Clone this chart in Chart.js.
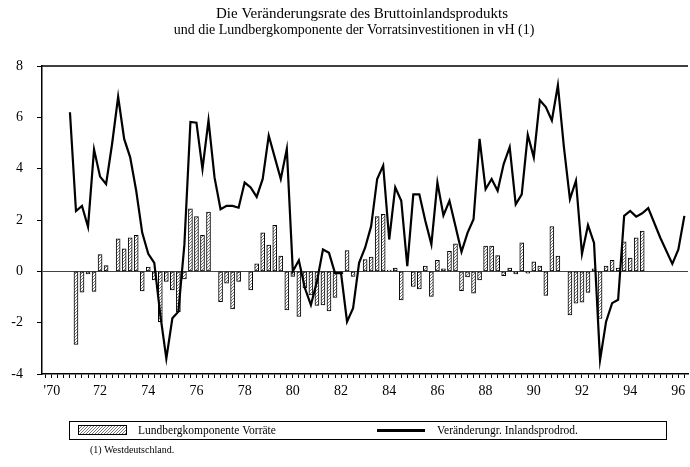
<!DOCTYPE html>
<html>
<head>
<meta charset="utf-8">
<script src="https://cdn.jsdelivr.net/npm/chart.js@4.4.0/dist/chart.umd.min.js"></script>
<style>
  html, body { margin: 0; padding: 0; background: #fff; }
  #wrap { width: 690px; height: 467px; position: relative; }
</style>
</head>
<body>
<div id="wrap"><canvas id="chart" width="690" height="467"></canvas></div>
<script>
// --- data (quarterly, first value = 4th quarter 1970) ---
const firstQuarter = 70.75;
const quarterStep = 0.25;

const titleLines = [
  "Die Veränderungsrate des Bruttoinlandsprodukts",
  "und die Lundbergkomponente der Vorratsinvestitionen in vH (1)"
];
const barLabel = "Lundbergkomponente Vorräte";
const lineLabel = "Veränderungr. Inlandsprodrod.";
const footnote = "(1) Westdeutschland.";

const yTicks = [-4, -2, 0, 2, 4, 6, 8];
const xLabelYears = [70, 72, 74, 76, 78, 80, 82, 84, 86, 88, 90, 92, 94, 96];

// Veränderungsrate BIP
const lineValues = [
  6.2, 2.35, 2.55, 1.73, 4.75, 3.69, 3.4, 4.97, 6.8, 5.16,
  4.44, 3.14, 1.5, 0.68, 0.33, -1.7, -3.4, -1.83, -1.57, 1.05,
  5.82, 5.79, 3.99, 5.88, 3.66, 2.42, 2.55, 2.55, 2.48, 3.46,
  3.27, 2.9, 3.6, 5.29, 4.44, 3.6, 4.77, 0.0, 0.43, -0.65,
  -1.31, -0.4, 0.85, 0.72, -0.07, -0.07, -1.96, -1.44, 0.33, 0.92,
  1.76, 3.6, 4.12, 1.24, 3.27, 2.75, 0.2, 3.0, 3.0, 1.96,
  1.05, 3.46, 2.18, 2.75, 1.76, 0.76, 1.5, 2.03, 5.16, 3.2,
  3.6, 3.14, 4.18, 4.84, 2.61, 3.0, 5.32, 4.44, 6.67, 6.4,
  5.88, 7.25, 4.84, 2.81, 3.53, 0.68, 1.8, 1.11, -3.46, -1.96,
  -1.24, -1.11, 2.16, 2.35, 2.13, 2.26, 2.46, null, 1.31, null,
  0.29, 0.85, 2.16
];

// Lundbergkomponente Vorräte
const barValues = [
  null, -2.85, -0.81, -0.1, -0.78, 0.65, 0.22, null, 1.27, 0.88,
  1.31, 1.4, -0.76, 0.17, -0.33, -1.96, -0.39, -0.72, -1.57, -0.3,
  2.44, 2.13, 1.4, 2.31, null, -1.18, -0.46, -1.46, -0.39, null,
  -0.72, 0.29, 1.5, 1.02, 1.79, 0.59, -1.5, -0.2, -1.76, -0.65,
  -0.92, -1.33, -1.31, -1.54, -1.02, -0.1, 0.81, -0.2, null, 0.46,
  0.56, 2.13, 2.22, 0.05, 0.13, -1.11, null, -0.59, -0.69, 0.2,
  -0.98, 0.43, 0.1, 0.78, 1.07, -0.75, -0.22, -0.85, -0.33, 0.98,
  0.98, 0.61, -0.17, 0.13, -0.1, 1.11, -0.07, 0.37, 0.2, -0.94,
  1.74, 0.59, null, -1.7, -1.24, -1.2, -0.82, 0.1, -1.83, 0.2,
  0.43, 0.13, 1.15, 0.52, 1.31, 1.57
];

const serif = '"Liberation Serif", "Times New Roman", serif';

const canvas = document.getElementById('chart');
const mainCtx = canvas.getContext('2d');

// stippled fill like the printed bars
function makeStipple() {
  const c = document.createElement('canvas');
  c.width = 3; c.height = 3;
  const g = c.getContext('2d');
  g.fillStyle = '#fff';
  g.fillRect(0, 0, 3, 3);
  g.fillStyle = '#777';
  g.fillRect(0, 0, 1, 1);
  g.fillRect(2, 1, 1, 1);
  g.fillRect(1, 2, 1, 1);
  return mainCtx.createPattern(c, 'repeat');
}
const stipple = makeStipple();

const toPoints = vals => vals.map((v, i) => ({ x: firstQuarter + i * quarterStep, y: v }));

// title, frame top, legend box and footnote
const decor = {
  id: 'decor',
  afterDraw(chart) {
    const ctx = chart.ctx;
    const a = chart.chartArea;
    ctx.save();
    ctx.strokeStyle = '#000';
    ctx.lineWidth = 1.5;
    ctx.beginPath();
    ctx.moveTo(a.left, a.top);
    ctx.lineTo(a.right, a.top);
    ctx.stroke();

    ctx.fillStyle = '#000';
    ctx.textAlign = 'center';
    ctx.textBaseline = 'middle';
    ctx.font = '15px ' + serif;
    ctx.fillText(titleLines[0], 362, 14);
    ctx.font = '14px ' + serif;
    ctx.fillText(titleLines[1], 354, 30);

    // legend
    ctx.lineWidth = 1;
    ctx.strokeRect(69.5, 421.5, 597, 18);
    ctx.fillStyle = stipple;
    ctx.fillRect(78, 425, 49, 10);
    ctx.strokeRect(78.5, 425.5, 48, 9);
    ctx.fillStyle = '#000';
    ctx.textAlign = 'left';
    ctx.font = '11.5px ' + serif;
    ctx.fillText(barLabel, 138, 431);
    ctx.lineWidth = 3;
    ctx.beginPath();
    ctx.moveTo(377, 430.5);
    ctx.lineTo(425, 430.5);
    ctx.stroke();
    ctx.fillText(lineLabel, 437, 431);

    ctx.font = '10px ' + serif;
    ctx.fillText(footnote, 90, 450);
    ctx.restore();
  }
};

new Chart(canvas, {
  type: 'bar',
  data: {
    datasets: [
      {
        type: 'line',
        label: lineLabel,
        data: toPoints(lineValues),
        borderColor: '#000',
        borderWidth: 2.2,
        pointRadius: 0,
        tension: 0,
        spanGaps: true,
        order: 0
      },
      {
        type: 'bar',
        label: barLabel,
        data: toPoints(barValues).filter(p => p.y !== null),
        backgroundColor: stipple,
        borderColor: '#000',
        borderWidth: 1,
        borderSkipped: false,
        barThickness: 4,
        order: 1
      }
    ]
  },
  options: {
    responsive: false,
    animation: false,
    devicePixelRatio: 1,
    layout: { padding: { left: 0, right: 2, top: 66, bottom: 67 } },
    plugins: {
      legend: { display: false },
      title: { display: false },
      tooltip: { enabled: false }
    },
    scales: {
      x: {
        type: 'linear',
        min: 69.59,
        max: 96.4,
        offset: false,
        grid: { offset: false, drawOnChartArea: false, tickLength: 4, tickColor: '#000', tickWidth: 1 },
        border: { color: '#000', width: 1.5 },
        ticks: {
          stepSize: 0.25,
          autoSkip: false,
          includeBounds: false,
          maxRotation: 0,
          minRotation: 0,
          padding: 5,
          color: '#000',
          font: { family: serif, size: 14 },
          callback: v => {
            const yr = Math.round(v * 100) / 100;
            if (!xLabelYears.includes(yr)) return '';
            return yr === 70 ? "'70" : String(yr);
          }
        },
        afterFit: s => { s.height = 26; }
      },
      y: {
        min: yTicks[0],
        max: yTicks[yTicks.length - 1],
        afterBuildTicks: s => { s.ticks = yTicks.map(v => ({ value: v })); },
        grid: {
          color: c => (c.tick && c.tick.value === 0 ? '#444' : 'rgba(0,0,0,0)'),
          lineWidth: 1,
          tickLength: 5,
          tickColor: '#000'
        },
        border: { color: '#000', width: 1.5 },
        ticks: {
          padding: 14,
          color: '#000',
          font: { family: serif, size: 14 }
        },
        afterFit: s => { s.width = 42; }
      }
    }
  },
  plugins: [decor]
});
</script>
</body>
</html>
